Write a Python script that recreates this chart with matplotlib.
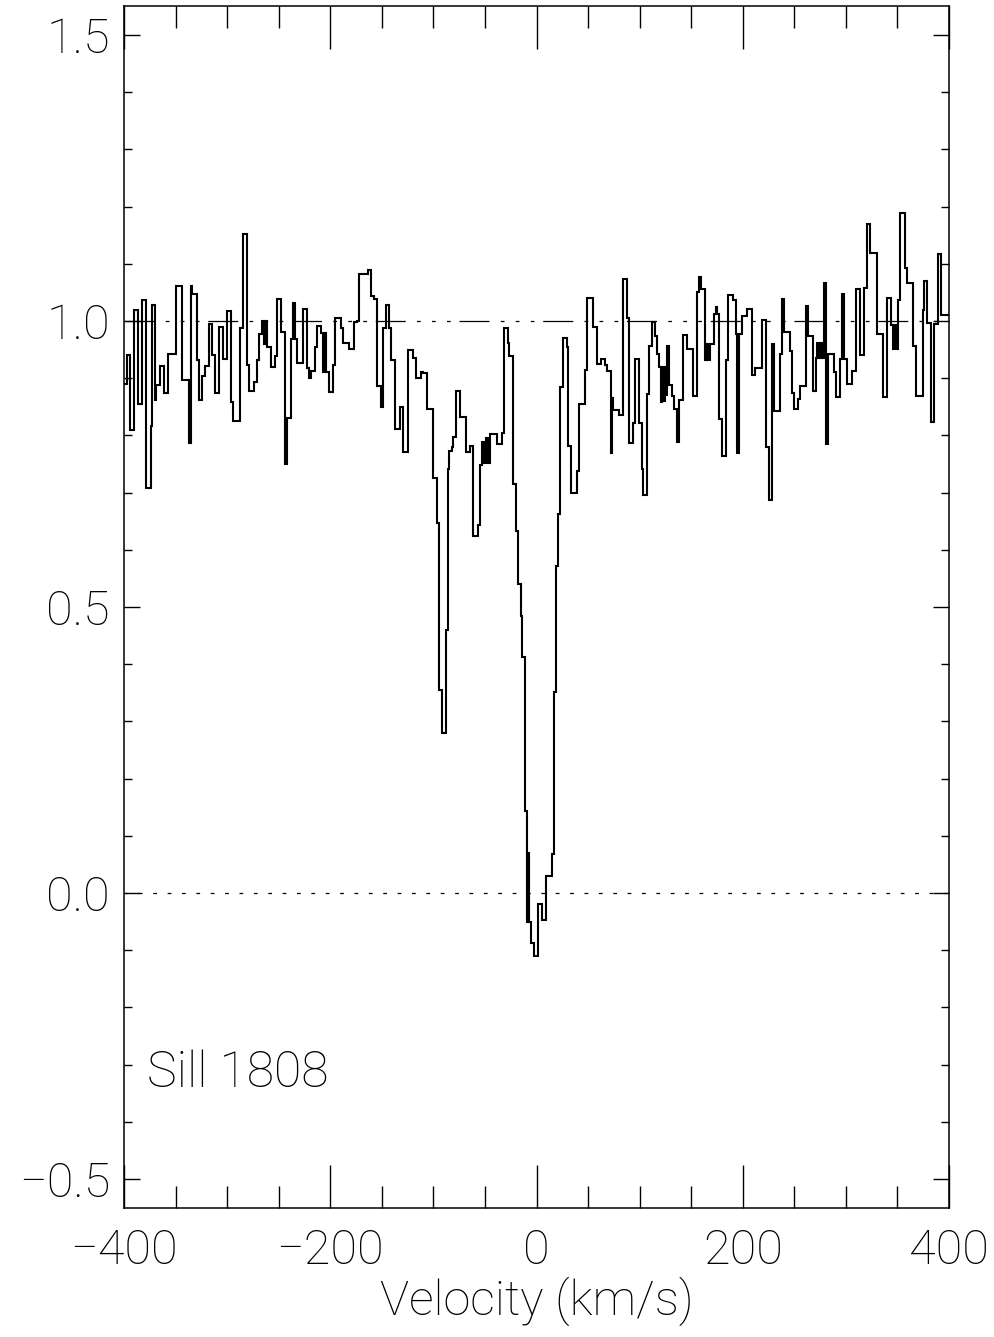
#sill 1808 absorption profile
import matplotlib
matplotlib.use("Agg")
import matplotlib.pyplot as plt
from matplotlib.ticker import MultipleLocator

plt.rcParams['font.family'] = ['Roboto', 'DejaVu Sans']
plt.rcParams['font.weight'] = 'light'
plt.rcParams['axes.labelweight'] = 'light'

# bin edges (km/s) and normalised flux
edges = [-400.0, -397.4, -394.2, -390.3, -386.4, -382.2, -378.3, -374.1, -372.5, -370.3,
         -369.0, -365.1, -361.2, -357.0, -349.9, -343.4, -337.0, -335.4, -333.7, -329.5,
         -327.3, -324.0, -321.8, -317.6, -314.4, -312.1, -307.9, -303.7, -300.5, -296.6,
         -294.0, -287.5, -284.3, -281.1, -278.8, -273.9, -270.7, -269.1, -265.9,
         -264.3, -263.0, -261.7, -257.2, -253.3, -251.7, -247.8, -244.2, -242.0, -237.8,
         -236.1, -234.2, -232.3, -226.8, -222.2, -220.3, -218.4, -214.5, -212.5, -208.7,
         -206.7, -205.4, -204.1, -200.9, -197.0, -195.1, -189.3, -187.3, -181.5, -177.3,
         -174.1, -171.8, -163.4, -160.2, -157.6, -155.0, -150.5, -148.6, -146.3, -142.7,
         -140.8, -136.9, -132.4, -129.2,
         -124.3, -119.5, -117.2, -112.0, -110.4, -106.5, -100.7, -96.8, -94.3, -91.7,
         -87.8, -86.2, -84.6, -82.3, -80.7, -78.4, -74.2, -68.7, -64.5, -61.3,
         -56.4, -54.8, -53.2, -51.0, -49.0, -47.1, -45.1, -38.7, -33.8, -31.5,
         -27.3, -26.4, -22.5, -19.9, -17.6, -15.4, -13.7, -11.2, -9.5, -8.5,
         -7.2, -5.7, -2.1, 1.8, 5.0, 9.2, 14.7, 17.0, 18.6, 21.2,
         22.8, 25.4, 29.3, 30.9, 33.1, 39.0, 41.2, 47.0, 48.7, 54.5,
         58.4, 62.2, 66.4, 68.0, 71.9, 72.9, 74.5, 80.3, 83.6, 87.4,
         89.7, 93.9, 95.5, 99.7, 102.0, 103.6, 107.5, 109.4, 111.7, 114.9,
         116.5, 119.1, 120.4, 121.7, 123.0, 124.3, 125.6, 126.9, 128.2, 131.7,
         133.7, 135.9, 138.5, 141.7, 145.6, 152.1, 156.0, 157.6, 159.5, 163.4,
         165.0, 166.6, 168.2, 171.8, 173.7, 175.4, 177.3, 179.6, 183.4, 185.4,
         190.9, 193.1, 194.7, 196.7, 198.9, 203.8, 208.6, 211.9, 218.3, 222.2,
         225.8, 228.0, 230.3, 236.1, 237.7, 240.0, 245.8, 248.1, 249.7, 253.9,
         255.5, 261.0, 262.9, 268.4, 270.7, 272.3, 273.9, 275.5, 277.2, 278.8,
         280.7, 283.0, 288.5, 290.4, 294.3, 296.5, 298.5, 300.7, 306.2, 309.8,
         313.7, 317.9, 320.1, 323.4, 329.8, 335.6, 339.5, 343.4, 345.3, 347.0,
         348.6, 350.8, 352.4, 357.3, 359.6, 365.4, 367.6, 374.4, 376.0, 378.3,
         382.2, 385.4, 389.6, 391.9, 400.0]

flux = [0.89, 0.94, 0.81, 1.02, 0.855, 1.036, 0.708, 0.817, 1.028,
        0.862, 0.888, 0.921, 0.874, 0.943, 1.062, 0.896, 0.786, 1.062, 1.047,
        0.931, 0.862, 0.903, 0.922, 0.995, 0.941, 0.874, 0.990, 0.934, 1.018,
        0.859, 0.825, 0.988, 1.152, 0.923, 0.878, 0.893, 0.932, 0.977,
        1.0, 0.96, 1.0, 0.955, 0.920, 0.938, 1.038, 0.981, 0.750, 0.831,
        0.969, 1.032, 0.969, 0.926, 1.021, 0.917, 0.901, 0.913, 0.955, 0.992,
        0.979, 0.910, 0.979, 0.910, 0.876, 0.923, 1.005, 0.987, 0.962, 0.951,
        0.998, 1.0, 1.083, 1.090, 1.043, 1.038, 0.887, 0.849, 0.987, 1.028,
        0.987, 0.932, 0.812, 0.850,
        0.771, 0.950, 0.935, 0.901, 0.910, 0.909, 0.847, 0.726, 0.647, 0.355,
        0.279, 0.460, 0.741, 0.773, 0.779, 0.798, 0.878, 0.833, 0.771, 0.782,
        0.625, 0.643, 0.749, 0.789, 0.751, 0.795, 0.751, 0.802, 0.785, 0.805,
        0.988, 0.962, 0.938, 0.715, 0.633, 0.540, 0.485, 0.413, 0.144, -0.05,
        0.07, -0.05, -0.087, -0.11, -0.02, -0.048, 0.029, 0.068, 0.351, 0.571,
        0.662, 0.885, 0.970, 0.954, 0.781, 0.700, 0.737, 0.855, 0.914, 1.041,
        0.990, 0.925, 0.934, 0.923, 0.913, 0.770, 0.865, 0.844, 0.836, 1.073,
        1.005, 0.786, 0.821, 0.933, 0.821, 0.741, 0.696, 0.872, 0.956, 0.999,
        0.974, 0.942, 0.919, 0.859, 0.92, 0.86, 0.92, 0.87, 0.956, 0.888,
        0.869, 0.846, 0.789, 0.862, 0.976, 0.951, 0.869, 1.050, 1.077, 1.056,
        0.932, 0.960, 0.932, 0.960, 1.013, 1.025, 1.013, 0.829, 0.764, 0.931,
        1.045, 1.037, 0.978, 0.770, 0.978, 1.008, 1.021, 0.906, 0.918, 1.002,
        0.780, 0.687, 0.959, 0.843, 0.943, 1.038, 0.980, 0.948, 0.875, 0.846,
        0.863, 0.887, 1.026, 0.974, 0.878, 0.935, 0.961, 0.935, 0.961, 0.935,
        1.067, 0.785, 0.942, 0.911, 0.867, 0.933, 1.047, 0.933, 0.890, 0.913,
        1.056, 0.941, 1.058, 1.170, 1.119, 0.978, 0.867, 1.041, 0.993, 0.951,
        0.993, 0.951, 1.037, 1.188, 1.092, 1.067, 0.957, 0.869, 1.020, 1.070,
        0.997, 0.824, 0.994, 1.118, 1.010]

xticks = [-400, -200, 0, 200, 400]
yticks = [-0.5, 0.0, 0.5, 1.0, 1.5]
label = "Sill 1808"

fig = plt.figure(figsize=(9.95, 13.37), dpi=100)
ax = fig.add_axes([0.1246, 0.0968, 0.9538 - 0.1246, 0.9952 - 0.0968])

# continuum and zero level
ax.axhline(1.0, color='k', lw=0.9,
           linestyle=(0, (24, 9, 3, 9, 3, 9, 3, 7)))
ax.axhline(0.0, color='k', lw=0.9, linestyle=(0, (3, 8.5)))

ax.stairs(flux, edges, baseline=None, color='k', lw=1.5)

ax.set_xlim(-400, 400)
ax.set_ylim(-0.55, 1.55)
ax.set_xticks(xticks)
ax.set_yticks(yticks)
ax.set_yticklabels([f"{t:.1f}".replace("-", "\u2212") for t in yticks])
ax.xaxis.set_minor_locator(MultipleLocator(50))
ax.yaxis.set_minor_locator(MultipleLocator(0.1))

ax.tick_params(axis='x', which='both', direction='in', top=True, bottom=True,
               width=1.0, labelsize=35, pad=14)
ax.tick_params(axis='x', which='major', length=31)
ax.tick_params(axis='x', which='minor', length=16)
ax.tick_params(axis='y', which='both', direction='in', left=True, right=True,
               width=1.0, labelsize=35, pad=10)
ax.tick_params(axis='y', which='major', length=11.5)
ax.tick_params(axis='y', which='minor', length=6)
for s in ax.spines.values():
    s.set_linewidth(1.1)

ax.set_xlabel("Velocity (km/s)", fontsize=35, fontweight='light', labelpad=2)
ax.text(-378, -0.34, label, fontsize=36, fontweight='light', ha='left', va='baseline')

fig.savefig("out.png", dpi=100)
